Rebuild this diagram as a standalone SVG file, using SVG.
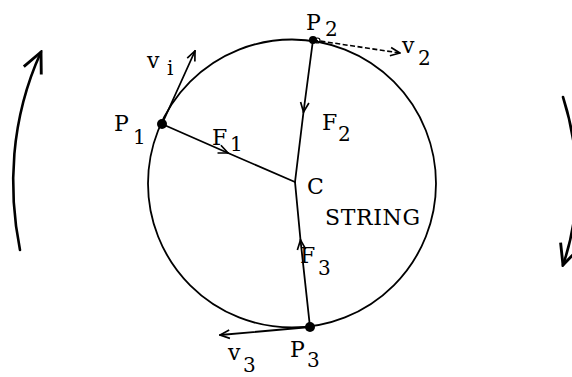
<svg xmlns="http://www.w3.org/2000/svg" width="572" height="377" viewBox="0 0 572 377">
<style>
  .ln{stroke:#000;stroke-width:1.8;fill:none;stroke-linecap:round}
  .rot{stroke:#000;stroke-width:2.6;fill:none;stroke-linecap:round}
  .dash{stroke:#000;stroke-width:1.6;fill:none;stroke-dasharray:5 2.5}
  .dot{fill:#000}
  .ring{fill:none;stroke:#000;stroke-width:1.2}
  .t{font-family:"DejaVu Serif","Liberation Serif",serif;font-size:22px;fill:#000}
  .s{font-family:"DejaVu Serif","Liberation Serif",serif;font-size:20px;fill:#000}
</style>
<defs>
  <marker id="ah" viewBox="0 0 10 10" refX="9" refY="5" markerWidth="12" markerHeight="12" markerUnits="userSpaceOnUse" orient="auto">
    <path d="M1,1.5 L9,5 L1,8.5" fill="none" stroke="#000" stroke-width="1.4"/>
  </marker>
  <marker id="ahBig" viewBox="0 0 10 10" refX="9" refY="5" markerWidth="24" markerHeight="24" markerUnits="userSpaceOnUse" orient="auto">
    <path d="M0.5,1 L9,5 L0.5,9" fill="none" stroke="#000" stroke-width="1.2"/>
  </marker>
</defs>
<rect width="572" height="377" fill="#fff"/>
<g id="string-circle">
  <circle cx="292" cy="183.5" r="144" class="ln"/>
</g>
<g id="connectors">
  <path id="F1" class="ln" d="M162,124 L228,153" marker-end="url(#ah)"/>
  <path class="ln" d="M228,153 L295,182"/>
  <path id="F2" class="ln" d="M313,40 L303.5,112" marker-end="url(#ah)"/>
  <path class="ln" d="M303.5,112 L295,182"/>
  <path id="F3" class="ln" d="M310,327 L300.5,240" marker-end="url(#ah)"/>
  <path class="ln" d="M300.5,240 L295,182"/>
  <path id="v1" class="ln" d="M162,124 L195,51" marker-end="url(#ah)"/>
  <path id="v2" class="dash" d="M313,40 L400,53" marker-end="url(#ah)"/>
  <path id="v3" class="ln" d="M310,327 L220,335" marker-end="url(#ah)"/>
  <path id="rot-left" class="rot" d="M20,250 C8,190 10,120 41,52" marker-end="url(#ahBig)"/>
  <path id="rot-right" class="rot" d="M563,97 C580,150 582,210 563,265" marker-end="url(#ahBig)"/>
</g>
<g id="P1">
  <circle cx="162" cy="124" r="5" class="dot"/>
  <text class="t" x="114" y="131">P</text><text class="s" x="133" y="144">1</text>
</g>
<g id="P2">
  <circle cx="313" cy="40" r="4" class="dot"/>
  <circle cx="317.5" cy="40.5" r="2.5" class="ring"/>
  <text class="t" x="306" y="30">P</text><text class="s" x="325" y="36">2</text>
</g>
<g id="P3">
  <circle cx="310" cy="327" r="5" class="dot"/>
  <text class="t" x="290" y="357">P</text><text class="s" x="307" y="367">3</text>
</g>
<g id="C">
  <text class="t" x="307" y="194">C</text>
  <text class="t" x="325" y="225" textLength="95">STRING</text>
</g>
<g id="labels">
  <text class="t" x="212" y="145">F</text><text class="s" x="230" y="151">1</text>
  <text class="t" x="322" y="130">F</text><text class="s" x="338" y="141">2</text>
  <text class="t" x="300" y="263">F</text><text class="s" x="318" y="275">3</text>
  <text class="t" x="147" y="68">v</text><text class="s" x="167" y="75">i</text>
  <text class="t" x="402" y="53">v</text><text class="s" x="418" y="65">2</text>
  <text class="t" x="228" y="360">v</text><text class="s" x="243" y="372">3</text>
</g>
</svg>
